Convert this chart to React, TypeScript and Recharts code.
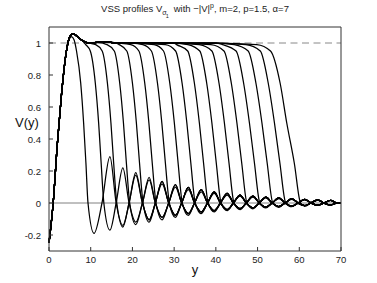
import React from "react";
import { LineChart, Line, XAxis, YAxis, ReferenceLine } from "recharts";

// axis ticks
const xTicks = [0, 10, 20, 30, 40, 50, 60, 70];
const yTicks = [-0.2, 0, 0.2, 0.4, 0.6, 0.8, 1];

// common rise + plateau of all profiles
const riseX = [0, 1, 2, 3, 4, 5, 5.8, 6.8, 8, 9.5, 11.5, 13.5, 16, 20, 30, 40, 50];
const riseY = [-0.25, 0, 0.37, 0.68, 0.92, 1.04, 1.058, 1.04, 1.015, 1.0, 1.004, 1.008, 1.0, 1.0, 1.0, 1.0, 1.0];

// the first profile falls straight off its peak
const firstFrontX = [0, 1, 2, 3, 4, 4.8, 5.4, 6.0, 6.6, 7.6, 8.3, 8.85, 9.35];
const firstFrontY = [-0.25, 0, 0.37, 0.68, 0.92, 1.02, 1.04, 1.02, 0.95, 0.75, 0.5, 0.25, 0];

// fronts of the other profiles: x where V = 0.99, 0.95, 0.75, 0.5, 0.25, 0
const dropLevels = [0.99, 0.95, 0.75, 0.5, 0.25, 0];
const shoulderX = [8.8, 11.2, 13.9, 16.8, 19.6, 22.5, 25.2, 27.9, 30.6, 33.3, 36.0, 38.8, 41.6, 44.4, 47.2, 49.8];
const x95 = [9.9, 12.75, 15.65, 18.65, 21.55, 24.55, 27.45, 30.35, 33.25, 36.15, 39.05, 41.95, 44.85, 47.75, 50.65, 53.1];
const x75 = [11.1, 14.0, 16.95, 20.0, 22.95, 26.0, 28.95, 31.9, 34.85, 37.8, 40.75, 43.7, 46.65, 49.6, 52.55, 55.4];
const halfX = [11.9, 14.85, 17.85, 20.95, 23.95, 27.05, 30.05, 33.05, 36.05, 39.05, 42.05, 45.05, 48.05, 51.05, 54.05, 57.0];
const x25 = [12.5, 15.5, 18.55, 21.7, 24.75, 27.9, 30.95, 34.0, 37.05, 40.1, 43.15, 46.2, 49.25, 52.3, 55.35, 58.8];
const crossX = [13.15, 16.25, 19.35, 22.55, 25.65, 28.85, 31.95, 35.05, 38.15, 41.25, 44.35, 47.45, 50.55, 53.65, 56.75, 60.3];

// decaying tails: extrema positions, zero crossings, envelope
const nodeX = [10.8, 14.6, 17.7, 20.8, 24.0, 27.1, 30.3, 33.4, 36.5, 39.6, 42.7, 45.8, 48.9, 52.0, 55.1, 58.2, 61.3, 64.4, 67.5];
const zeroX = [12.7, 16.1, 19.2, 22.4, 25.5, 28.7, 31.8, 34.9, 38.0, 41.1, 44.2, 47.3, 50.4, 53.5, 56.6, 59.7, 62.8, 65.9, 69.0];
const upperEnv = [0.3, 0.29, 0.23, 0.19, 0.16, 0.135, 0.115, 0.097, 0.083, 0.07, 0.06, 0.05, 0.043, 0.037, 0.032, 0.027, 0.023, 0.02, 0.017];
const lowerEnv = [-0.19, -0.16, -0.14, -0.12, -0.105, -0.09, -0.077, -0.066, -0.056, -0.048, -0.041, -0.035, -0.03, -0.026, -0.022, -0.019, -0.016, -0.014, -0.012];
const firstMin = [-0.19, -0.17, -0.15, -0.135, -0.12, -0.105, -0.09, -0.078, -0.066, -0.056, -0.048, -0.041, -0.036, -0.031, -0.027, -0.023, -0.02];
const firstMax = [0.29, 0.22, 0.175, 0.145, 0.12, 0.1, 0.083, 0.07, 0.06, 0.05, 0.043, 0.037, 0.032, 0.027, 0.023, 0.02, 0.017];

type Pt = { x: number; y: number };

function buildProfile(k: number): Pt[] {
  const pts: Pt[] = [];
  if (k === 0) {
    firstFrontX.forEach((x, i) => pts.push({ x, y: firstFrontY[i] }));
  } else {
    const i = k - 1;
    riseX.forEach((x, j) => {
      if (x < shoulderX[i] - 0.5) pts.push({ x, y: riseY[j] });
    });
    const front = [shoulderX[i], x95[i], x75[i], halfX[i], x25[i], crossX[i]];
    front.forEach((x, j) => pts.push({ x, y: dropLevels[j] }));
  }
  pts.push({ x: nodeX[k], y: firstMin[k] });
  pts.push({ x: zeroX[k], y: 0 });
  for (let n = k + 1; n < nodeX.length; n++) {
    const j = n - k;
    const y = j === 1 ? firstMax[k] : j % 2 === 1 ? upperEnv[n] : lowerEnv[n];
    pts.push({ x: nodeX[n], y });
    pts.push({ x: zeroX[n], y: 0 });
  }
  pts.push({ x: 70, y: 0 });
  return pts;
}

const profiles = firstMin.map((_, k) => buildProfile(k));

const FONT = "'Liberation Sans', Arial, Helvetica, sans-serif";
const AXIS = "#333";
const TICK = 4;

const BottomTick = (p: any) => (
  <g>
    <line x1={p.x} x2={p.x} y1={p.y} y2={p.y - TICK} stroke={AXIS} />
    <text x={p.x} y={p.y + 12} textAnchor="middle" fontSize={9.5} fill="#222" fontFamily={FONT}>
      {p.payload.value}
    </text>
  </g>
);
const TopTick = (p: any) => <line x1={p.x} x2={p.x} y1={p.y} y2={p.y + TICK} stroke={AXIS} />;
const LeftTick = (p: any) => (
  <g>
    <line x1={p.x} x2={p.x + TICK} y1={p.y} y2={p.y} stroke={AXIS} />
    <text x={p.x - 8} y={p.y + 3.5} textAnchor="end" fontSize={9.5} fill="#222" fontFamily={FONT}>
      {p.payload.value}
    </text>
  </g>
);
const RightTick = (p: any) => <line x1={p.x} x2={p.x - TICK} y1={p.y} y2={p.y} stroke={AXIS} />;

export default function App() {
  return (
    <div style={{ position: "absolute", left: 0, top: 0, width: 377, height: 283, background: "#fff" }}>
      <LineChart width={377} height={283} margin={{ top: 22, right: 26, bottom: 2, left: 9 }}>
        <XAxis type="number" dataKey="x" domain={[0, 70]} ticks={xTicks} interval={0} height={30}
          tickSize={0} tickMargin={0} tickLine={false} axisLine={{ stroke: AXIS }} tick={BottomTick} />
        <XAxis xAxisId="top" orientation="top" type="number" domain={[0, 70]} ticks={xTicks} interval={0} height={5}
          tickSize={0} tickMargin={0} tickLine={false} axisLine={{ stroke: AXIS }} tick={TopTick} />
        <YAxis type="number" domain={[-0.3, 1.1]} ticks={yTicks} interval={0} width={40}
          tickSize={0} tickMargin={0} tickLine={false} axisLine={{ stroke: AXIS }} tick={LeftTick} />
        <YAxis yAxisId="right" orientation="right" type="number" domain={[-0.3, 1.1]} ticks={yTicks} interval={0} width={10}
          tickSize={0} tickMargin={0} tickLine={false} axisLine={{ stroke: AXIS }} tick={RightTick} />
        <ReferenceLine y={0} stroke="#808080" strokeWidth={1} />
        <ReferenceLine y={1} stroke="#888" strokeWidth={1} strokeDasharray="7 4.5" />
        {profiles.map((d, i) => (
          <Line key={i} data={d} dataKey="y" type="monotone" stroke="#000" strokeWidth={1.25}
            dot={false} activeDot={false} isAnimationActive={false} />
        ))}
      </LineChart>
      <svg width={377} height={283} style={{ position: "absolute", left: 0, top: 0, pointerEvents: "none" }}>
        <text x={195} y={12} textAnchor="middle" fontSize={9.5} fill="#222" fontFamily={FONT}>
          VSS profiles V
          <tspan dy={3} fontSize={7}>σ</tspan>
          <tspan dy={3} dx={-1} fontSize={5.5}>1</tspan>
          <tspan dy={-6} dx={5} fontSize={9.5}>with −|V|</tspan>
          <tspan dy={-4} fontSize={7}>p</tspan>
          <tspan dy={4} fontSize={9.5}>, m=2, p=1.5, α=7</tspan>
        </text>
        <text x={15} y={127} fontSize={13} fill="#111" fontFamily={FONT}>V(y)</text>
        <text x={195} y={274} textAnchor="middle" fontSize={13} fill="#111" fontFamily={FONT}>y</text>
      </svg>
    </div>
  );
}
